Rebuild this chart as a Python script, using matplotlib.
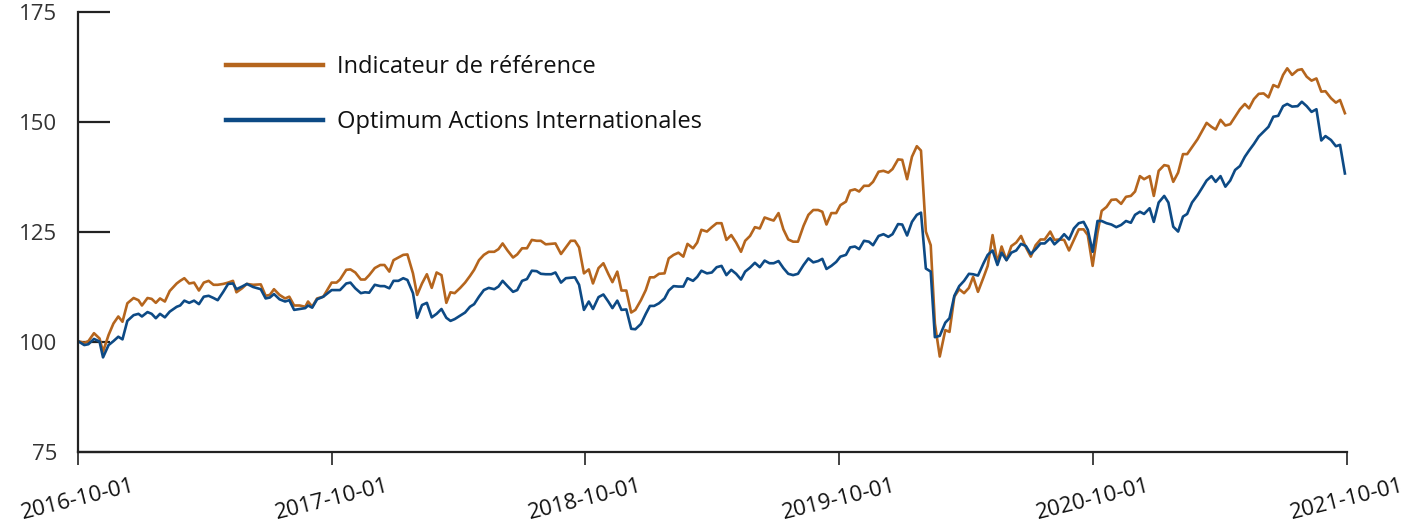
import numpy as np
import pandas as pd
import matplotlib
matplotlib.use("Agg")
import matplotlib.pyplot as plt
import matplotlib.dates as mdates

# jours écoulés depuis le 2016-10-01
jours = [0, 9, 15, 23, 31, 36, 44, 51, 58, 64, 71, 80, 87, 92, 100, 106, 112, 118, 125, 132,
         142, 147, 153, 160, 167, 174, 181, 188, 195, 201, 209, 216, 223, 228, 236, 243, 252, 263,
         270, 276, 282, 290, 298, 304, 311, 319, 327, 331, 337, 344, 353, 365, 372, 377, 386, 392,
         399, 407, 413, 419, 427, 435, 441, 448, 454, 461, 468, 474, 482, 488, 495, 502, 509, 516,
         523, 530, 536, 542, 550, 557, 564, 570, 577, 584, 591, 599, 605, 611, 618, 626, 632, 639,
         646, 653, 660, 666, 673, 681, 687, 695, 702, 709, 715, 721, 728, 735, 741, 749, 756, 763,
         769, 776, 782, 789, 796, 802, 810, 817, 823, 829, 836, 844, 850, 857, 864, 871, 877, 885,
         891, 897, 905, 912, 919, 926, 933, 940, 947, 954, 960, 967, 974, 981, 988, 995, 1001, 1008,
         1015, 1022, 1029, 1036, 1044, 1051, 1058, 1065, 1071, 1077, 1084, 1091, 1097, 1105, 1111,
         1118, 1124, 1131, 1138, 1144, 1152, 1159, 1166, 1172, 1180, 1186, 1193, 1200, 1207, 1213,
         1220, 1227, 1233, 1240, 1248, 1254, 1261, 1268, 1275, 1282, 1288, 1295, 1303, 1309, 1316,
         1323, 1329, 1336, 1343, 1350, 1357, 1364, 1371, 1378, 1385, 1391, 1399, 1405, 1412, 1419,
         1426, 1433, 1440, 1447, 1453, 1460, 1467, 1473, 1480, 1487, 1494, 1501, 1508, 1515, 1521,
         1528, 1534, 1542, 1548, 1555, 1563, 1569, 1576, 1583, 1590, 1596, 1603, 1611, 1617, 1624,
         1631, 1637, 1644, 1651, 1658, 1665, 1672, 1679, 1685, 1692, 1699, 1706, 1713, 1720, 1727,
         1734, 1740, 1747, 1755, 1761, 1768, 1775, 1782, 1789, 1795, 1803, 1810, 1816, 1823]

indicateur = [100.2, 99.8, 100.2, 102, 100.8, 97.8, 101.6, 104.2, 105.8, 104.6, 108.8, 110, 109.5,
              108.3, 110, 109.8, 108.9, 109.9, 109.2, 111.6, 113.3, 113.9, 114.5, 113.3, 113.5, 111.7,
              113.5, 113.9, 113, 113, 113.2, 113.5, 113.9, 111.3, 112.2, 113.2, 113, 113.1, 110.5,
              110.7, 112, 110.7, 109.9, 110.3, 108.3, 108.3, 108, 109.2, 108, 109.9, 110.3, 113.5,
              113.5, 114.2, 116.4, 116.5, 115.8, 114.2, 114.2, 115.2, 116.8, 117.5, 117.5, 116, 118.6,
              119.2, 119.8, 119.9, 115.6, 110.7, 113.3, 115.4, 112.3, 115.8, 115.2, 108.9, 111.3,
              111.1, 112.3, 113.5, 115, 116.4, 118.6, 119.8, 120.5, 120.5, 121.1, 122.4, 120.8, 119.2,
              119.9, 121.3, 121.3, 123.2, 123, 123, 122.2, 122.3, 122.4, 120, 121.5, 123, 123, 121.5,
              115.6, 116.5, 113.3, 116.8, 117.9, 115.5, 113.6, 116, 111.7, 111.7, 106.7, 107.3, 109.5,
              111.8, 114.7, 114.7, 115.5, 115.6, 119, 119.8, 120.3, 119.4, 122.3, 121.3, 122.6, 125.5,
              125.1, 126.1, 127, 127, 123.2, 124.3, 122.6, 120.5, 123, 124.1, 126.1, 125.8, 128.3,
              127.9, 127.6, 129.3, 125.6, 123.3, 122.8, 122.8, 126.4, 128.9, 130, 130, 129.6, 126.7,
              129.3, 129.3, 131.1, 131.9, 134.4, 134.7, 134.2, 135.5, 135.5, 136.4, 138.7, 138.9,
              138.5, 139.3, 141.5, 141.4, 137, 142.1, 144.5, 143.5, 125.1, 122, 104.2, 96.7, 102.7,
              102.3, 110.3, 112, 111.1, 112.3, 114.8, 111.4, 114.7, 117.3, 124.3, 118, 121.7, 118.6,
              121.8, 122.6, 124.1, 121.5, 119.4, 122, 123.3, 123.3, 125.1, 123.2, 123.3, 123.2, 120.8,
              123.2, 125.6, 125.6, 124.3, 117.3, 124.8, 129.8, 130.7, 132.3, 132.4, 131.4, 133, 133.2,
              134.2, 137.7, 137, 137.7, 133.2, 138.9, 140.2, 140, 136.4, 138.5, 142.7, 142.7, 144.3,
              146.1, 147.8, 149.8, 148.9, 148.3, 150.5, 149.2, 149.5, 151.2, 152.9, 154.1, 153.1,
              155.2, 156.4, 156.5, 155.6, 158.4, 157.9, 160.7, 162.2, 160.7, 161.8, 162, 160.3, 159.4,
              159.9, 156.9, 157, 155.4, 154.4, 155, 152]

optimum = [100.2, 99.3, 99.5, 100.7, 100.1, 96.5, 99.3, 100.2, 101.2, 100.6, 104.8, 106.1, 106.4,
           105.8, 106.8, 106.4, 105.4, 106.4, 105.6, 106.9, 108, 108.3, 109.4, 108.9, 109.4, 108.6,
           110.3, 110.5, 110, 109.5, 111.4, 113.2, 113.3, 112, 112.6, 113.2, 112.5, 112, 109.9, 110.1,
           110.9, 109.7, 109.2, 109.5, 107.3, 107.5, 107.7, 108.3, 107.8, 109.7, 110.3, 111.8, 111.8,
           111.8, 113.3, 113.5, 112.2, 111.1, 111.3, 111.2, 113, 112.7, 112.7, 112.2, 113.9, 113.9,
           114.5, 114.1, 111.1, 105.5, 108.4, 108.9, 105.6, 106.4, 107.5, 105.5, 104.8, 105.2, 106,
           106.7, 108, 108.6, 110.3, 111.8, 112.3, 112, 112.6, 113.9, 112.7, 111.4, 111.8, 113.9,
           114.3, 116.2, 116.1, 115.5, 115.4, 115.4, 115.8, 113.5, 114.5, 114.6, 114.7, 113, 107.3,
           109.2, 107.5, 110.2, 110.8, 109.2, 107.7, 109.4, 107.3, 107.4, 103, 102.9, 104.1, 106.4,
           108.2, 108.2, 108.8, 109.9, 111.7, 112.7, 112.6, 112.6, 114.5, 113.9, 114.8, 116.2, 115.6,
           115.8, 117, 117.3, 115.2, 116.4, 115.5, 114.2, 116, 116.9, 118, 117, 118.5, 117.9, 117.9,
           118.4, 116.8, 115.5, 115.2, 115.5, 117.5, 119, 118.1, 118.4, 118.9, 116.6, 117.3, 118.2,
           119.4, 119.8, 121.5, 121.7, 121.1, 123, 122.8, 122, 124.1, 124.5, 123.9, 124.5, 126.8,
           126.7, 124.2, 127.3, 128.9, 129.4, 116.7, 116, 101.1, 101.4, 104.4, 105.4, 110.5, 112.7,
           113.9, 115.5, 115.4, 115.1, 117.9, 119.8, 120.8, 117.5, 120.3, 118.6, 120.3, 120.8, 122.3,
           121.8, 120, 121.1, 122.4, 122.4, 123.6, 122.2, 123.2, 124.5, 123.3, 125.8, 127, 127.3,
           125.5, 120.5, 127.5, 127.5, 127, 126.7, 126.1, 126.6, 127.5, 127.1, 128.9, 129.6, 129.1,
           130.4, 127.3, 131.7, 133.2, 131.7, 126.2, 125.1, 128.5, 129.1, 131.7, 133.4, 134.9, 136.7,
           137.7, 136.4, 137.7, 135.3, 136.7, 139.1, 140, 142.1, 143.5, 145, 146.7, 147.8, 148.9,
           151.2, 151.4, 153.6, 154.1, 153.5, 153.6, 154.6, 153.6, 152.3, 152.9, 145.8, 146.8, 145.9,
           144.5, 144.8, 138.3]

debut = pd.Timestamp("2016-10-01")
dates = debut + pd.to_timedelta(jours, unit="D")
ticks_x = pd.to_datetime(["2016-10-01", "2017-10-01", "2018-10-01",
                          "2019-10-01", "2020-10-01", "2021-10-01"])
ticks_y = [75, 100, 125, 150, 175]

orange = "#B5651D"
bleu = "#0D4A85"
gris = "#222222"

plt.rcParams["font.family"] = ["Open Sans", "DejaVu Sans"]

fig = plt.figure(figsize=(14.28, 5.23), dpi=100)
ax = fig.add_axes([78 / 1428, 1 - 452 / 523, 1269 / 1428, 440 / 523])

ax.plot(dates, indicateur, color=orange, lw=1.9, label="Indicateur de référence")
ax.plot(dates, optimum, color=bleu, lw=1.9, label="Optimum Actions Internationales")

ax.set_xlim(ticks_x[0], ticks_x[-1])
ax.set_ylim(75, 175)
ax.set_yticks(ticks_y)
ax.set_xticks(ticks_x)
ax.xaxis.set_major_formatter(mdates.DateFormatter("%Y-%m-%d"))

for s in ["top", "right"]:
    ax.spines[s].set_visible(False)
for s in ["left", "bottom"]:
    ax.spines[s].set_color(gris)
    ax.spines[s].set_linewidth(1.6)

ax.tick_params(axis="y", direction="in", length=23, width=1.6, color=gris,
               labelsize=16, labelcolor="#333333", pad=15)
ax.tick_params(axis="x", direction="out", length=9, width=1.2, color=gris,
               labelsize=16, labelcolor="#111111", pad=7.5)
for lab in ax.get_xticklabels():
    lab.set_rotation(14)
    lab.set_ha("center")

leg = ax.legend(loc="upper left", bbox_to_anchor=(0.1166, 0.902), frameon=False,
                fontsize=17, handlelength=4.1, handletextpad=0.6, labelspacing=1.3,
                borderpad=0, borderaxespad=0)
for t in leg.get_texts():
    t.set_color("#111111")
for h in leg.get_lines():
    h.set_linewidth(3.2)

fig.savefig("out.png", dpi=100)
